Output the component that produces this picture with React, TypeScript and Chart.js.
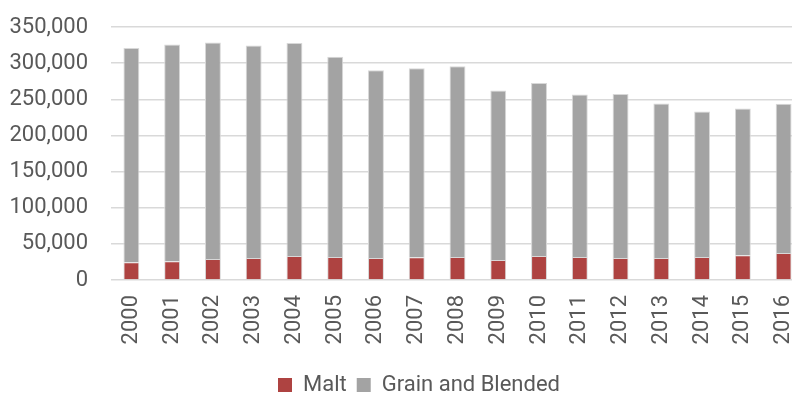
import React, { useEffect, useRef } from "react";
import { Chart, registerables } from "chart.js";

Chart.register(...registerables);

const years = ["2000","2001","2002","2003","2004","2005","2006","2007","2008","2009","2010","2011","2012","2013","2014","2015","2016"];
const malt = [24700, 26100, 28900, 30300, 33100, 31700, 30300, 31300, 31700, 27500, 33100, 31700, 30300, 30300, 31700, 34400, 37200];
const grainAndBlended = [296400, 299600, 299600, 294000, 294900, 277300, 259700, 261500, 263900, 234800, 239400, 225000, 226900, 213900, 201400, 202800, 206600];
const yTicks = [0, 50000, 100000, 150000, 200000, 250000, 300000, 350000];

const FONT = "Roboto";
const FONT_SIZE = 22;
const TEXT = "#595959";

const legendShift = {
  id: "legendShift",
  afterLayout(chart: any) {
    const lg = chart.legend;
    if (lg) {
      lg.left += 17;
      lg.right += 17;
    }
  },
};

export default function App() {
  const ref = useRef<HTMLCanvasElement | null>(null);
  useEffect(() => {
    if (!ref.current) return;
    const chart = new Chart(ref.current, {
      type: "bar",
      data: {
        labels: years,
        datasets: [
          {
            label: "Malt",
            data: malt,
            backgroundColor: "#AE4341",
            borderColor: "#D8D8D8",
            borderWidth: 1,
            barPercentage: 0.39,
            categoryPercentage: 1,
          },
          {
            label: "Grain and Blended",
            data: grainAndBlended,
            backgroundColor: "#A3A3A3",
            borderColor: "#D8D8D8",
            borderWidth: 1,
            barPercentage: 0.39,
            categoryPercentage: 1,
          },
        ],
      },
      plugins: [legendShift],
      options: {
        animation: false,
        responsive: false,
        devicePixelRatio: 1,
        layout: { padding: { left: 0, right: 0, top: 27, bottom: 0 } },
        plugins: {
          tooltip: { enabled: false },
          legend: {
            position: "bottom",
            labels: {
              color: TEXT,
              font: { family: FONT, size: FONT_SIZE },
              boxWidth: 14,
              boxHeight: 14,
              padding: 10,
              generateLabels: (c: any) =>
                c.data.datasets.map((ds: any, i: number) => ({
                  text: ds.label as string,
                  fillStyle: ds.backgroundColor as string,
                  strokeStyle: ds.backgroundColor as string,
                  lineWidth: 0,
                  hidden: false,
                  datasetIndex: i,
                  fontColor: TEXT,
                })),
            },
          },
        },
        scales: {
          x: {
            stacked: true,
            offset: true,
            grid: {
              display: true,
              color: "rgba(0,0,0,0)",
              drawTicks: true,
              tickLength: 15,
              tickColor: "rgba(0,0,0,0)",
            },
            border: { display: false },
            ticks: {
              color: TEXT,
              font: { family: FONT, size: FONT_SIZE },
              minRotation: 90,
              maxRotation: 90,
              padding: 0,
              autoSkip: false,
            },
            afterFit: (s: any) => {
              s.height = 84;
              s.paddingLeft = 0;
              s.paddingRight = 0;
            },
          },
          y: {
            stacked: true,
            min: 0,
            max: 350000,
            afterBuildTicks: (s: any) => {
              s.ticks = yTicks.map((v) => ({ value: v }));
            },
            grid: {
              color: "#D9D9D9",
              lineWidth: 1.5,
              drawTicks: true,
              tickLength: 23,
              tickColor: "rgba(0,0,0,0)",
            },
            border: { display: false },
            ticks: {
              color: TEXT,
              font: { family: FONT, size: FONT_SIZE },
              padding: 0,
              callback: (v: any) => Number(v).toLocaleString("en-US"),
            },
            afterFit: (s: any) => {
              s.width = 111;
            },
          },
        },
      },
    });
    return () => chart.destroy();
  }, []);
  return (
    <div style={{ position: "fixed", left: 0, top: 0, width: 792, height: 394, overflow: "hidden", background: "#fff" }}>
      <canvas ref={ref} width={804} height={406} style={{ display: "block", width: 804, height: 406 }} />
    </div>
  );
}
